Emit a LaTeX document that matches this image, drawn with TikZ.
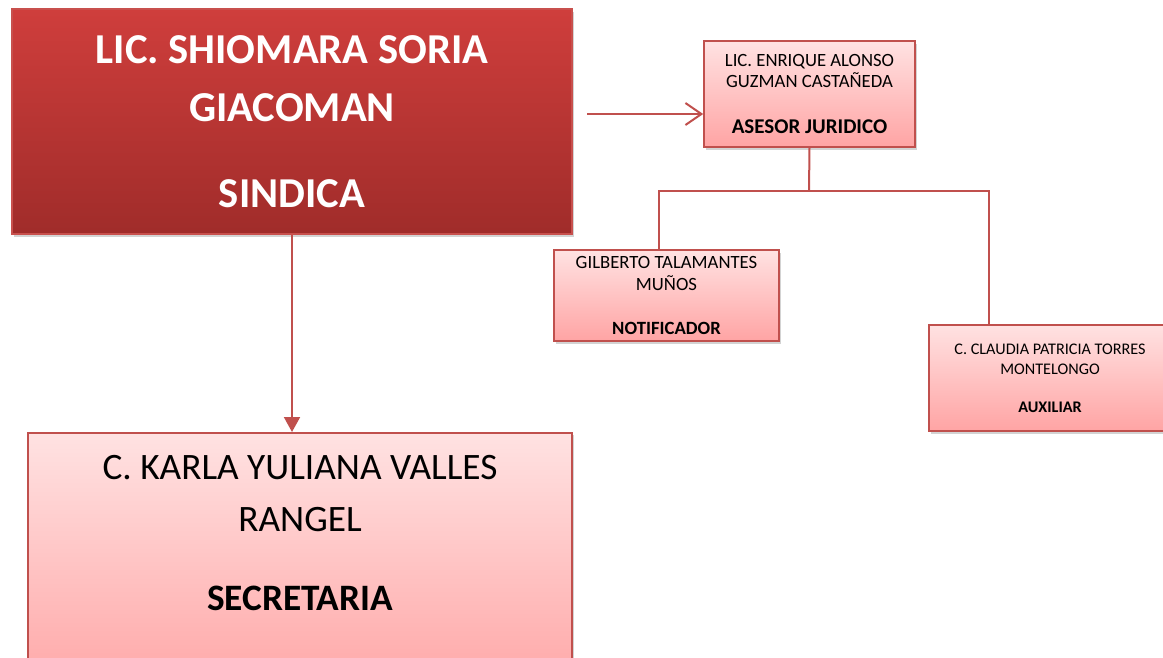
\documentclass[tikz,border=0pt]{standalone}
\usepackage{fontspec}
\setmainfont{Carlito}
\usetikzlibrary{arrows.meta,shadows}
\definecolor{accent}{HTML}{C0504D}
\definecolor{darktop}{HTML}{CF3E3C}
\definecolor{darkbot}{HTML}{A02C2A}
\definecolor{pinktop}{HTML}{FFE2E2}
\definecolor{pinkbot}{HTML}{FFA4A4}
\definecolor{darkedge}{HTML}{C8504D}
\tikzset{
  boxbase/.style={rectangle, inner sep=0pt, align=center, line width=1.6pt,
    drop shadow={opacity=0.35, shadow xshift=1.5pt, shadow yshift=-2.5pt}},
  darkbox/.style={boxbase, draw=darkedge, top color=darktop, bottom color=darkbot, text=white},
  pinkbox/.style={boxbase, draw=accent, top color=pinktop, bottom color=pinkbot, text=black},
  link/.style={draw=accent, line width=2pt},
}
\begin{document}
\begin{tikzpicture}[x=1pt,y=-1pt]
\useasboundingbox (0,0) rectangle (1163,657);
\clip (0,0) rectangle (1163,657);

\node[darkbox, minimum width=560pt, minimum height=225pt,
  font={\fontsize{42.6}{58}\selectfont\bfseries}] (sindica) at (292,121.5)
  {LIC. SHIOMARA SORIA\\GIACOMAN\\[28pt]SINDICA};

\node[pinkbox, minimum width=211pt, minimum height=106pt,
  font={\fontsize{18.7}{21}\selectfont}] (asesor) at (809.5,94)
  {LIC. ENRIQUE ALONSO\\GUZMAN CASTAÑEDA\\[25pt]{\fontsize{21}{21}\selectfont\bfseries ASESOR JURIDICO}};

\node[pinkbox, minimum width=225pt, minimum height=91pt,
  font={\fontsize{18.7}{22}\selectfont}] (notif) at (666.5,295.5)
  {GILBERTO TALAMANTES\\MUÑOS\\[22pt]{\bfseries NOTIFICADOR}};

\node[pinkbox, minimum width=242pt, minimum height=106pt,
  font={\fontsize{16.2}{20}\selectfont}] (aux) at (1050,378)
  {C. CLAUDIA PATRICIA TORRES\\MONTELONGO\\[18pt]{\bfseries AUXILIAR}};

\node[pinkbox, anchor=north, minimum width=544pt, minimum height=270pt] (secre) at (300,432) {};
\node[font={\fontsize{37.3}{52}\selectfont}, align=center, text=black] (secretext) at (300,533)
  {C. KARLA YULIANA VALLES\\RANGEL\\[27pt]{\bfseries SECRETARIA}};

\coordinate (arrstart) at (587,114);
\draw[link, -{Straight Barb[length=16pt,width=22pt,line width=2pt]}] (arrstart) -- (asesor.west |- arrstart);
\draw[link, -{Triangle[length=15pt,width=16pt]}] (sindica.south) -- (sindica.south |- secre.north);

\coordinate (split) at (809,191);
\draw[link] (asesor.south) -- (split);
\draw[link] (notif.north -| 659,0) |- (split) -| (aux.north -| 989,0);
\end{tikzpicture}
\end{document}
